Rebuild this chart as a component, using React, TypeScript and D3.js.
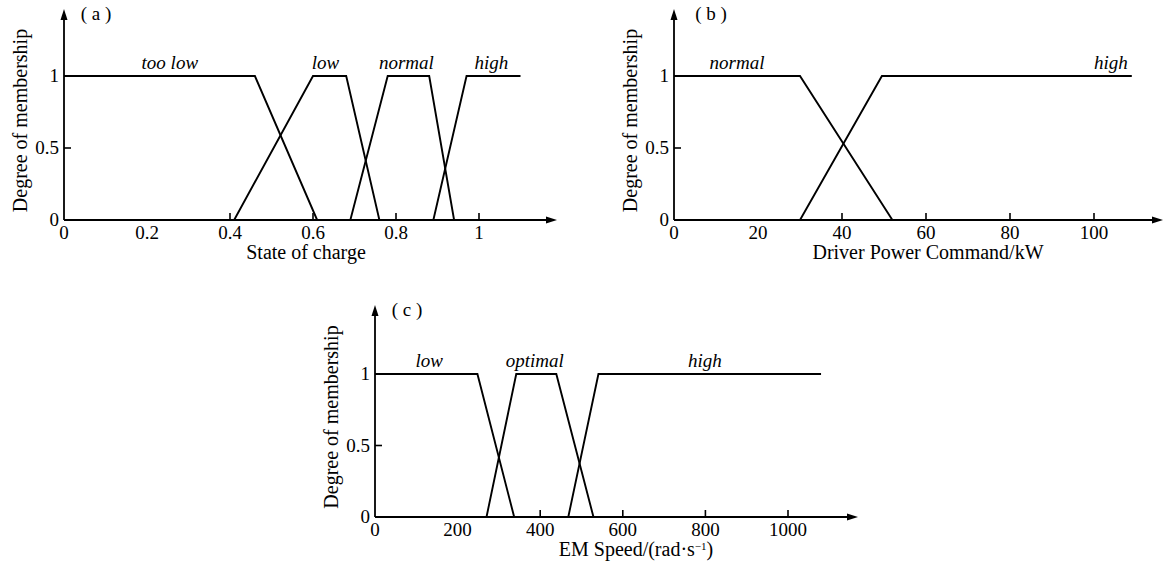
import React, { useEffect, useRef } from 'react';
import * as d3 from 'd3';

// (a) state of charge
const socTicks = [0, 0.2, 0.4, 0.6, 0.8, 1];
const socTooLow = [[0, 1], [0.46, 1], [0.61, 0]];
const socLow = [[0.41, 0], [0.6, 1], [0.68, 1], [0.76, 0]];
const socNormal = [[0.69, 0], [0.78, 1], [0.88, 1], [0.94, 0]];
const socHigh = [[0.89, 0], [0.97, 1], [1.1, 1]];
const socNames = ['too low', 'low', 'normal', 'high'];
const socLabelAt = [0.255, 0.63, 0.825, 1.03];

// (b) driver power command, kW
const powerTicks = [0, 20, 40, 60, 80, 100];
const powerNormal = [[0, 1], [30, 1], [52, 0]];
const powerHigh = [[30, 0], [49.5, 1], [109, 1]];
const powerNames = ['normal', 'high'];
const powerLabelAt = [15, 104];

// (c) EM speed, rad/s
const speedTicks = [0, 200, 400, 600, 800, 1000];
const speedLow = [[0, 1], [248, 1], [337, 0]];
const speedOptimal = [[270, 0], [342, 1], [439, 1], [529, 0]];
const speedHigh = [[468, 0], [541, 1], [1080, 1]];
const speedNames = ['low', 'optimal', 'high'];
const speedLabelAt = [131, 387, 799];

const membershipTicks = [0, 0.5, 1];

const FONT = "'Liberation Serif', 'Times New Roman', serif";

const panels = [
  {
    tag: '( a )', title: 'State of charge',
    domain: [0, 1], ticks: socTicks, fmt: d3.format('~g'),
    series: [socTooLow, socLow, socNormal, socHigh], names: socNames, labelAt: socLabelAt,
    x0: 64, x1: 479, y0: 220, y1: 76, xEnd: 557, yTop: 9, tagX: 96, titleX: 306,
  },
  {
    tag: '( b )', title: 'Driver Power Command/kW',
    domain: [0, 100], ticks: powerTicks, fmt: d3.format('d'),
    series: [powerNormal, powerHigh], names: powerNames, labelAt: powerLabelAt,
    x0: 674, x1: 1094, y0: 220, y1: 76, xEnd: 1163, yTop: 9, tagX: 711, titleX: 928,
  },
  {
    tag: '( c )', title: 'EM Speed/(rad·s', sup: '−1', titleEnd: ')',
    domain: [0, 1000], ticks: speedTicks, fmt: d3.format('d'),
    series: [speedLow, speedOptimal, speedHigh], names: speedNames, labelAt: speedLabelAt,
    x0: 375, x1: 788, y0: 517, y1: 374, xEnd: 858, yTop: 305, tagX: 407, titleX: 636,
  },
];

function drawPanel(svg, p) {
  const x = d3.scaleLinear().domain(p.domain).range([p.x0, p.x1]);
  const y = d3.scaleLinear().domain([0, 1]).range([p.y0, p.y1]);
  const g = svg.append('g').attr('font-family', FONT).attr('font-size', 19).attr('fill', '#000');

  // axes with arrow heads
  g.append('line')
    .attr('x1', p.x0).attr('x2', p.xEnd - 6)
    .attr('y1', p.y0).attr('y2', p.y0)
    .attr('stroke', '#000').attr('stroke-width', 1.8);
  g.append('path')
    .attr('d', `M${p.xEnd},${p.y0} L${p.xEnd - 11},${p.y0 - 3.5} L${p.xEnd - 11},${p.y0 + 3.5} Z`)
    .attr('fill', '#000');
  g.append('line')
    .attr('x1', p.x0).attr('x2', p.x0)
    .attr('y1', p.y0).attr('y2', p.yTop + 6)
    .attr('stroke', '#000').attr('stroke-width', 1.8);
  g.append('path')
    .attr('d', `M${p.x0},${p.yTop} L${p.x0 - 3.5},${p.yTop + 11} L${p.x0 + 3.5},${p.yTop + 11} Z`)
    .attr('fill', '#000');

  // x ticks (marks point inward, the first one after 0 has none)
  g.selectAll('.xtick')
    .data(p.ticks.slice(2))
    .enter().append('line')
    .attr('x1', d => x(d)).attr('x2', d => x(d))
    .attr('y1', p.y0).attr('y2', p.y0 - 7)
    .attr('stroke', '#000').attr('stroke-width', 1.6);
  g.selectAll('.xlabel')
    .data(p.ticks)
    .enter().append('text')
    .attr('x', d => x(d)).attr('y', p.y0 + 19)
    .attr('text-anchor', 'middle')
    .text(d => p.fmt(d));

  // y ticks
  g.selectAll('.ytick')
    .data(membershipTicks.slice(1))
    .enter().append('line')
    .attr('x1', p.x0).attr('x2', p.x0 + 7)
    .attr('y1', d => y(d)).attr('y2', d => y(d))
    .attr('stroke', '#000').attr('stroke-width', 1.6);
  g.selectAll('.ylabel')
    .data(membershipTicks)
    .enter().append('text')
    .attr('x', p.x0 - 5).attr('y', d => y(d) + 6)
    .attr('text-anchor', 'end')
    .text(d => d3.format('~g')(d));

  // titles
  const t = g.append('text')
    .attr('x', p.titleX).attr('y', p.y0 + 39)
    .attr('font-size', 20)
    .attr('text-anchor', 'middle');
  if (p.sup) {
    t.append('tspan').text(p.title);
    t.append('tspan').attr('font-size', 11).attr('dy', -6).text(p.sup);
    t.append('tspan').attr('dy', 6).text(p.titleEnd);
  } else {
    t.text(p.title);
  }
  const cy = (p.y0 + p.yTop) / 2 + 6;
  g.append('text')
    .attr('transform', `translate(${p.x0 - 37},${cy}) rotate(-90)`)
    .attr('font-size', 20)
    .attr('text-anchor', 'middle')
    .text('Degree of membership');
  g.append('text')
    .attr('x', p.tagX).attr('y', p.yTop + 11)
    .attr('text-anchor', 'middle')
    .text(p.tag);

  // membership functions
  const line = d3.line()
    .x(d => x(d[0]))
    .y(d => y(d[1]));
  p.series.forEach(s => {
    g.append('path')
      .datum(s)
      .attr('fill', 'none')
      .attr('stroke', '#000')
      .attr('stroke-width', 1.9)
      .attr('d', line);
  });
  g.selectAll('.name')
    .data(p.names)
    .enter().append('text')
    .attr('x', (d, i) => x(p.labelAt[i])).attr('y', y(1) - 7)
    .attr('text-anchor', 'middle')
    .attr('font-style', 'italic')
    .text(d => d);
}

export default function App() {
  const ref = useRef(null);

  useEffect(() => {
    const svg = d3.select(ref.current);
    svg.selectAll('*').remove();
    panels.forEach(p => drawPanel(svg, p));
  }, []);

  return (
    <svg
      ref={ref}
      width={1166}
      height={563}
      style={{ position: 'absolute', left: 0, top: 0, background: '#fff' }}
    />
  );
}
